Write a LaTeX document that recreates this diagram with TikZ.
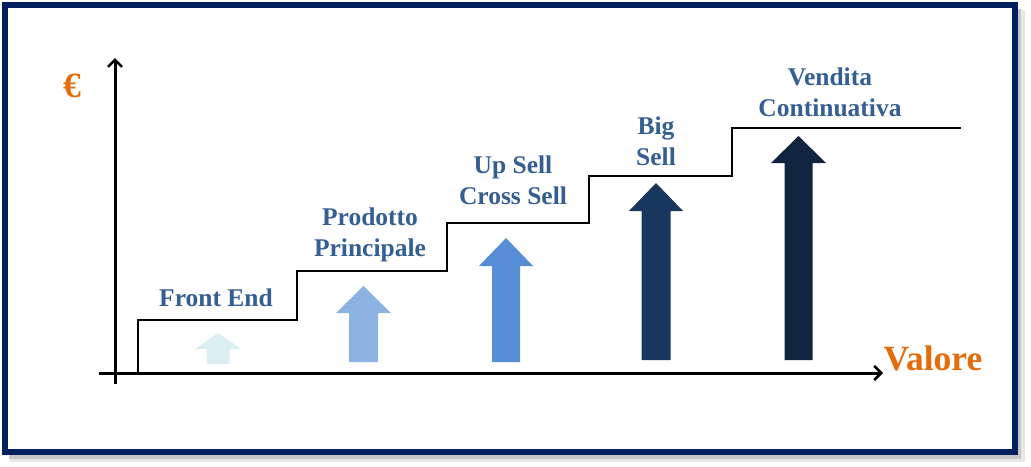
\documentclass[tikz,border=0pt]{standalone}
\usepackage{fontspec}
\setmainfont{Liberation Serif}
\usetikzlibrary{arrows.meta}
\definecolor{frameblue}{HTML}{002060}
\definecolor{lbl}{HTML}{355E93}
\definecolor{orng}{HTML}{E46C0A}
\definecolor{a1}{HTML}{DAEEF3}
\definecolor{a2}{HTML}{8DB3E2}
\definecolor{a3}{HTML}{558ED5}
\definecolor{a4}{HTML}{17375E}
\definecolor{a5}{HTML}{10243F}
\begin{document}
\begin{tikzpicture}[x=1pt,y=-1pt,
    lab/.style={text=lbl,font=\fontsize{25.5}{31}\selectfont\bfseries,align=center,inner sep=0},
    axlab/.style={text=orng,font=\fontsize{35.5}{38}\selectfont\bfseries,inner sep=0},
    axis/.style={line width=3pt,-{Straight Barb[length=7pt,width=14pt,line width=2.5pt]}}]
        \useasboundingbox (0,0) rectangle (1031,466);
        \fill[gray!18] (10,10) rectangle (1025,462);
        \fill[gray!45] (9,9) rectangle (1021,459);
        \draw[frameblue,line width=6pt,fill=white] (5,5) rectangle (1015,452);
        \foreach \cx/\tip/\bot/\hw/\sw/\hh/\col in {218/333/364/23/11.5/16/a1,363.5/286/362/27.5/14.5/27/a2,506/238/362/27/14/28/a3,656/183/360/27/14.5/28/a4,798.5/136/360/27.5/14/27/a5}
          \fill[\col] (\cx,\tip) -- (\cx+\hw,\tip+\hh) -- (\cx+\sw,\tip+\hh) -- (\cx+\sw,\bot)
            -- (\cx-\sw,\bot) -- (\cx-\sw,\tip+\hh) -- (\cx-\hw,\tip+\hh) -- cycle;
        \draw[line width=2pt] (138,373) -- (138,320) -- (297,320) -- (297,271) -- (447,271) -- (447,223)
          -- (589,223) -- (589,176) -- (732,176) -- (732,128) -- (961,128);
        \coordinate (xs) at (99,373);
        \coordinate (xe) at (883,373);
        \coordinate (ys) at (115,384);
        \coordinate (ye) at (115,58);
        \draw[axis] (xs) -- (xe);
        \draw[axis] (ys) -- (ye);
        \node[axlab] (eur) at (72,86) {€};
        \node[axlab] (val) at (933,358) {Valore};
        \node[lab] (fe) at (216,298) {Front End};
        \node[lab] (pp) at (370,235) {Prodotto\\Principale};
        \node[lab] (us) at (513,180) {Up Sell\\Cross Sell};
        \node[lab] (bs) at (656,141) {Big\\Sell};
        \node[lab] (vc) at (830,92) {Vendita\\Continuativa};
      \end{tikzpicture}
\end{document}
